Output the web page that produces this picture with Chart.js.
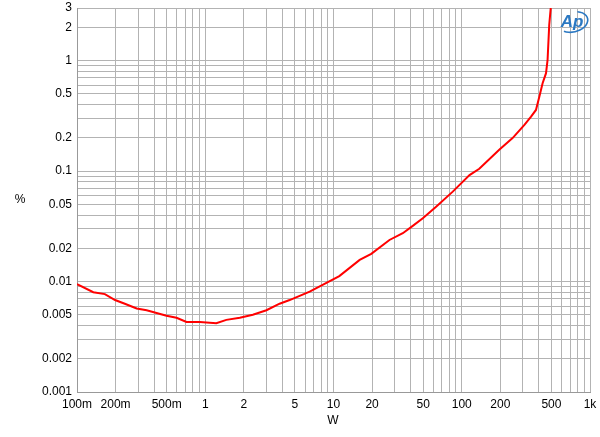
<!DOCTYPE html>
<html>
<head>
<meta charset="utf-8">
<script src="https://cdn.jsdelivr.net/npm/chart.js@4/dist/chart.umd.min.js"></script>
<style>
  html, body { margin: 0; padding: 0; background: #fff; }
  #wrap { width: 600px; height: 437px; }
</style>
</head>
<body>
<div id="wrap"><canvas id="thdChart" width="600" height="437"></canvas></div>
<script>
// output power (W) vs THD+N (%)
const powerW = [0.1, 0.134, 0.165, 0.198, 0.236, 0.292, 0.349, 0.499, 0.597, 0.714, 0.907,
  1.22, 1.46, 1.86, 2.35, 3.0, 3.8, 4.55, 6.52, 11.1, 16.0, 19.7, 27.3, 34.7, 41.5, 49.7,
  63.1, 85.1, 115, 137, 196, 249, 308, 347, 379, 403, 427, 454, 467, 481, 500]
const thdPct = [0.0095, 0.0080, 0.0077, 0.0068, 0.0063, 0.0057, 0.0055, 0.0049, 0.0047, 0.0043, 0.0043,
  0.0042, 0.0045, 0.0047, 0.0050, 0.0055, 0.0063, 0.0068, 0.0081, 0.0112, 0.0157, 0.0178, 0.0238, 0.0274, 0.0319, 0.0374,
  0.0477, 0.0652, 0.092, 0.105, 0.156, 0.199, 0.262, 0.312, 0.358, 0.473, 0.626, 0.771, 1.02, 2.11, 3.5]

const xTickValues = [0.1, 0.2, 0.5, 1, 2, 5, 10, 20, 50, 100, 200, 500, 1000]
const xTickText = ['100m', '200m', '500m', '1', '2', '5', '10', '20', '50', '100', '200', '500', '1k']
const yTickValues = [0.001, 0.002, 0.005, 0.01, 0.02, 0.05, 0.1, 0.2, 0.5, 1, 2, 3]
const yTickText = ['0.001', '0.002', '0.005', '0.01', '0.02', '0.05', '0.1', '0.2', '0.5', '1', '2', '3']

const FONT = '"Liberation Sans", Arial, sans-serif'
const GRID = '#b3b3b3'

// every 1..9 step in each decade, for the grid
function decadeSteps(lo, hi) {
  const out = []
  for (let e = Math.floor(Math.log10(lo)); e <= Math.ceil(Math.log10(hi)); e++) {
    for (let m = 1; m <= 9; m++) {
      const v = Number((m * Math.pow(10, e)).toPrecision(3))
      if (v >= lo * 0.999 && v <= hi * 1.001) out.push(v)
    }
  }
  return out
}

function labelFor(values, texts, v) {
  const i = values.findIndex(t => Math.abs(t - v) / t < 1e-6)
  return i >= 0 ? texts[i] : ''
}

// don't let edge labels push the plot area around
function noEdgePadding(scale) {
  scale.paddingTop = 0
  scale.paddingBottom = 0
  scale.paddingLeft = 0
  scale.paddingRight = 0
}

const extras = {
  id: 'extras',
  afterDraw(chart) {
    const ctx = chart.ctx
    ctx.save()
    ctx.fillStyle = '#000'
    ctx.font = '12px ' + FONT
    ctx.textAlign = 'center'
    ctx.textBaseline = 'middle'
    ctx.fillText('%', 20, 200)
    ctx.fillText('W', 333, 421)

    // Ap logo
    ctx.fillStyle = '#2b78c2'
    ctx.strokeStyle = '#2b78c2'
    ctx.font = 'italic bold 17px ' + FONT
    ctx.fillText('Ap', 572, 22)
    ctx.lineWidth = 1.6
    ctx.beginPath()
    ctx.ellipse(573, 22, 15, 10, -0.25, -1.1, 2.4)
    ctx.stroke()
    ctx.restore()
  },
}

new Chart(document.getElementById('thdChart'), {
  type: 'line',
  data: {
    datasets: [{
      data: powerW.map((x, i) => ({ x, y: thdPct[i] })),
      borderColor: '#ff0000',
      borderWidth: 2,
      pointRadius: 0,
      tension: 0,
      fill: false,
    }],
  },
  options: {
    responsive: false,
    animation: false,
    layout: { padding: { top: 8, right: 10, left: 0, bottom: 0 } },
    plugins: { legend: { display: false }, tooltip: { enabled: false } },
    scales: {
      x: {
        type: 'logarithmic',
        min: 0.1,
        max: 1000,
        afterBuildTicks(scale) {
          scale.ticks = decadeSteps(0.1, 1000).map(value => ({ value }))
        },
        afterFit(scale) {
          scale.height = 45
          noEdgePadding(scale)
        },
        grid: { color: GRID, drawTicks: false },
        border: { color: '#999' },
        ticks: {
          autoSkip: false,
          maxRotation: 0,
          padding: 5,
          color: '#000',
          font: { family: FONT, size: 12 },
          callback: v => labelFor(xTickValues, xTickText, v),
        },
      },
      y: {
        type: 'logarithmic',
        min: 0.001,
        max: 3,
        afterBuildTicks(scale) {
          scale.ticks = decadeSteps(0.001, 3).map(value => ({ value }))
        },
        afterFit(scale) {
          scale.width = 77
          noEdgePadding(scale)
        },
        grid: { color: GRID, drawTicks: false },
        border: { color: '#999' },
        ticks: {
          autoSkip: false,
          padding: 5,
          color: '#000',
          font: { family: FONT, size: 12 },
          callback: v => labelFor(yTickValues, yTickText, v),
        },
      },
    },
  },
  plugins: [extras],
})
</script>
</body>
</html>
